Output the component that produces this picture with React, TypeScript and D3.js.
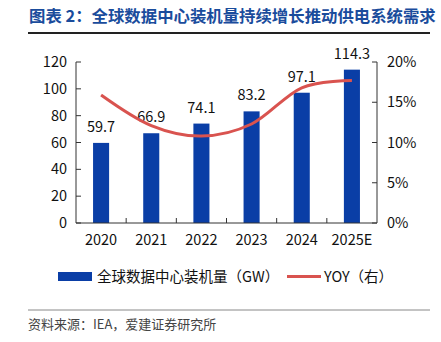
import React from "react";
import * as d3 from "d3";

const categories = ["2020", "2021", "2022", "2023", "2024", "2025E"];
const capacity = [59.7, 66.9, 74.1, 83.2, 97.1, 114.3];
const yoy = [15.9, 12.1, 10.8, 12.3, 16.8, 17.7];
const leftTicks = [0, 20, 40, 60, 80, 100, 120];
const rightTicks = [0, 5, 10, 15, 20];

const title = "图表 2：全球数据中心装机量持续增长推动供电系统需求";
const legendBar = "全球数据中心装机量（GW）";
const legendLine = "YOY（右）";
const source = "资料来源：IEA，爱建证券研究所";

const FONT = "'Noto Sans CJK SC', 'Noto Sans', sans-serif";
const BLUE = "#0a3ea6";
const RED = "#d9534f";

export default function App() {
  const W = 441, H = 342;
  const left = 76, right = 377, top = 62, bottom = 223;
  const x = d3.scaleBand<string>().domain(categories).range([left, right]).paddingInner(0.68).paddingOuter(0.34);
  const band = d3.scaleBand<string>().domain(categories).range([left, right]);
  const yL = d3.scaleLinear().domain([0, 120]).range([bottom, top]);
  const yR = d3.scaleLinear().domain([0, 20]).range([bottom, top]);
  const line = d3
    .line<number>()
    .x((_, i) => band(categories[i])! + band.bandwidth() / 2)
    .y((d) => yR(d))
    .curve(d3.curveCardinal.tension(0));

  return (
    <svg width={W} height={H} style={{ position: "absolute", left: 0, top: 0, background: "#fff" }} fontFamily={FONT}>
      <text x={29} y={22} fontSize={16.4} fontWeight="bold" fill="#1a4c9c">{title}</text>
      <line x1={28} x2={430} y1={33} y2={33} stroke="#222" strokeWidth={2} />

      {categories.map((c, i) => (
        <rect key={c} x={x(c)} y={yL(capacity[i])} width={x.bandwidth()} height={bottom - yL(capacity[i])} fill={BLUE} />
      ))}
      {categories.map((c, i) => (
        <text key={"v" + c} x={x(c)! + x.bandwidth() / 2} y={yL(capacity[i]) - 11} fontSize={14.5} textAnchor="middle" fill="#111">
          {capacity[i].toFixed(1)}
        </text>
      ))}

      <path d={line(yoy) || ""} fill="none" stroke={RED} strokeWidth={3} />

      <line x1={left} x2={left} y1={top} y2={bottom} stroke="#333" />
      <line x1={right} x2={right} y1={top} y2={bottom} stroke="#333" />
      <line x1={left} x2={right} y1={bottom} y2={bottom} stroke="#333" />
      {leftTicks.map((t) => (
        <g key={"l" + t}>
          <line x1={left} x2={left + 5} y1={yL(t)} y2={yL(t)} stroke="#333" />
          <text x={67} y={yL(t)} dy="0.35em" fontSize={14.5} textAnchor="end" fill="#111">{t}</text>
        </g>
      ))}
      {rightTicks.map((t) => (
        <g key={"r" + t}>
          <line x1={right - 5} x2={right} y1={yR(t)} y2={yR(t)} stroke="#333" />
          <text x={387} y={yR(t)} dy="0.35em" fontSize={14.5} textAnchor="start" fill="#111">{t}%</text>
        </g>
      ))}
      {categories.slice(1).map((c) => (
        <line key={"b" + c} x1={band(c)} x2={band(c)} y1={bottom} y2={bottom - 5} stroke="#333" />
      ))}
      {categories.map((c) => (
        <text key={"c" + c} x={band(c)! + band.bandwidth() / 2} y={245} fontSize={14.5} textAnchor="middle" fill="#111">{c}</text>
      ))}

      <rect x={58} y={272} width={34} height={9} fill={BLUE} />
      <text x={97} y={282} fontSize={14.5} fill="#111">{legendBar}</text>
      <line x1={287} x2={321} y1={276.5} y2={276.5} stroke={RED} strokeWidth={3} />
      <text x={324} y={282} fontSize={14.5} fill="#111">{legendLine}</text>

      <line x1={28} x2={430} y1={310} y2={310} stroke="#888" strokeWidth={1} />
      <text x={28} y={329} fontSize={13} fill="#444">{source}</text>
    </svg>
  );
}
